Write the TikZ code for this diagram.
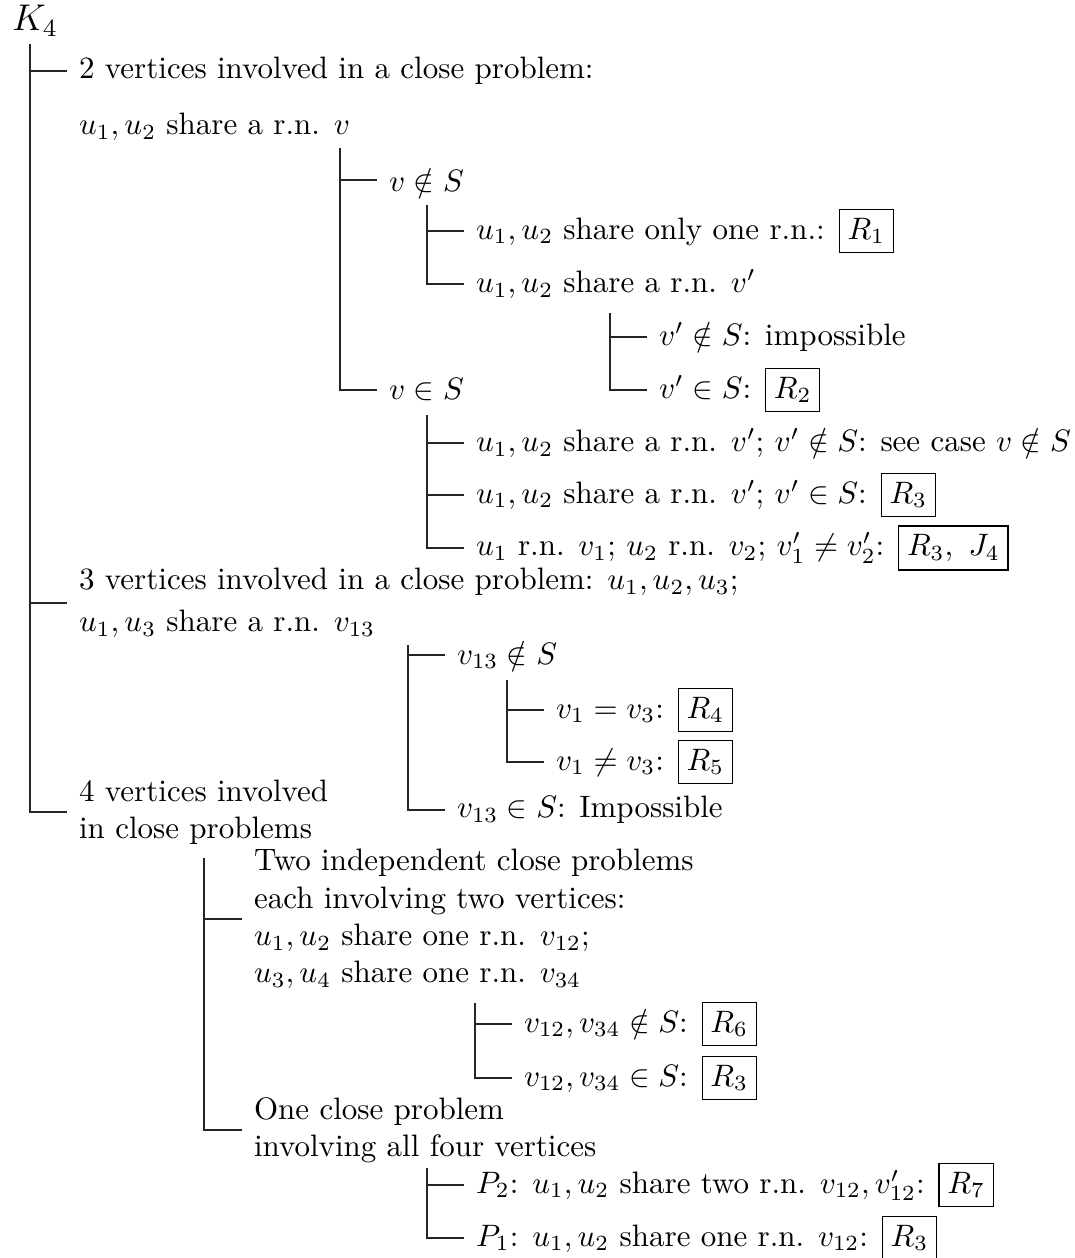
\documentclass[tikz,border=0pt]{standalone}
\usepackage{amsmath}
\usepackage{amssymb}
\usepackage{tikz}

\setlength{\fboxsep}{2.5pt}
\newcommand{\rbox}[1]{\fbox{$#1$}}

\begin{document}
\begin{tikzpicture}[x=0.3226pt,y=-0.3226pt,
  txt/.style={anchor=west,inner xsep=3.7pt,inner ysep=0pt,align=left},
  twig/.style={draw=black!85,line width=0.4pt}]
\useasboundingbox (0,0) rectangle (1075,1258);
% nodes:
\node[txt] (root) at (0,21) {\large $K_4$};
\node[txt] (n2) at (67,71) {2 vertices involved in a close problem:};
\node[txt] (n2b) at (67,127) {$u_1,u_2$ share a r.n. $v$};
\node[txt] (vout) at (377,180) {$v\notin S$};
\node[txt] (vin) at (377,390) {$v\in S$};
\node[txt] (c1) at (464,231) {$u_1,u_2$ share only one r.n.: \rbox{R_1}};
\node[txt] (c2) at (464,284) {$u_1,u_2$ share a r.n. $v'$};
\node[txt] (d1) at (647,337) {$v'\notin S$: impossible};
\node[txt] (d2) at (647,390) {$v'\in S$: \rbox{R_2}};
\node[txt] (e1) at (464,443) {$u_1,u_2$ share a r.n. $v'$; $v'\notin S$: see case $v\notin S$};
\node[txt] (e2) at (464,495) {$u_1,u_2$ share a r.n. $v'$; $v'\in S$: \rbox{R_3}};
\node[txt] (e3) at (464,548) {$u_1$ r.n. $v_1$; $u_2$ r.n. $v_2$; $v'_1\neq v'_2$: \rbox{R_3,\ J_4}};
\node[txt] (n3) at (67,603) {3 vertices involved in a close problem: $u_1,u_2,u_3$;\\[1.5pt] $u_1,u_3$ share a r.n. $v_{13}$};
\node[txt] (f1) at (445,655) {$v_{13}\notin S$};
\node[txt] (f2) at (445,810) {$v_{13}\in S$: Impossible};
\node[txt] (g1) at (544,710) {$v_1=v_3$: \rbox{R_4}};
\node[txt] (g2) at (544,762) {$v_1\neq v_3$: \rbox{R_5}};
\node[txt] (n4) at (67,812) {4 vertices involved\\ in close problems};
\node[txt] (h1) at (242,919) {Two independent close problems\\ each involving two vertices:\\ $u_1,u_2$ share one r.n. $v_{12}$;\\ $u_3,u_4$ share one r.n. $v_{34}$};
\node[txt] (i1) at (512,1024) {$v_{12},v_{34}\notin S$: \rbox{R_6}};
\node[txt] (i2) at (512,1078) {$v_{12},v_{34}\in S$: \rbox{R_3}};
\node[txt] (h2) at (242,1130) {One close problem\\ involving all four vertices};
\node[txt] (j1) at (464,1185) {$P_2$: $u_1,u_2$ share two r.n. $v_{12},v'_{12}$: \rbox{R_7}};
\node[txt] (j2) at (464,1238) {$P_1$: $u_1,u_2$ share one r.n. $v_{12}$: \rbox{R_3}};
% branch points:
\coordinate (ba) at (30,44);
\coordinate (bb) at (340,148);
\coordinate (bc) at (427,205);
\coordinate (bd) at (610,313);
\coordinate (be) at (427,415);
\coordinate (bf) at (408,645);
\coordinate (bg) at (507,680);
\coordinate (bh) at (204,858);
\coordinate (bi) at (475,1003);
\coordinate (bj) at (427,1168);
% twigs:
\path[twig] (ba) |- (n2.west);
\path[twig] (ba) |- (n3.west);
\path[twig] (ba) |- (n4.west);
\path[twig] (bb) |- (vout.west);
\path[twig] (bb) |- (vin.west);
\path[twig] (bc) |- (c1.west);
\path[twig] (bc) |- (c2.west);
\path[twig] (bd) |- (d1.west);
\path[twig] (bd) |- (d2.west);
\path[twig] (be) |- (e1.west);
\path[twig] (be) |- (e2.west);
\path[twig] (be) |- (e3.west);
\path[twig] (bf) |- (f1.west);
\path[twig] (bf) |- (f2.west);
\path[twig] (bg) |- (g1.west);
\path[twig] (bg) |- (g2.west);
\path[twig] (bh) |- (h1.west);
\path[twig] (bh) |- (h2.west);
\path[twig] (bi) |- (i1.west);
\path[twig] (bi) |- (i2.west);
\path[twig] (bj) |- (j1.west);
\path[twig] (bj) |- (j2.west);
\end{tikzpicture}
\end{document}
